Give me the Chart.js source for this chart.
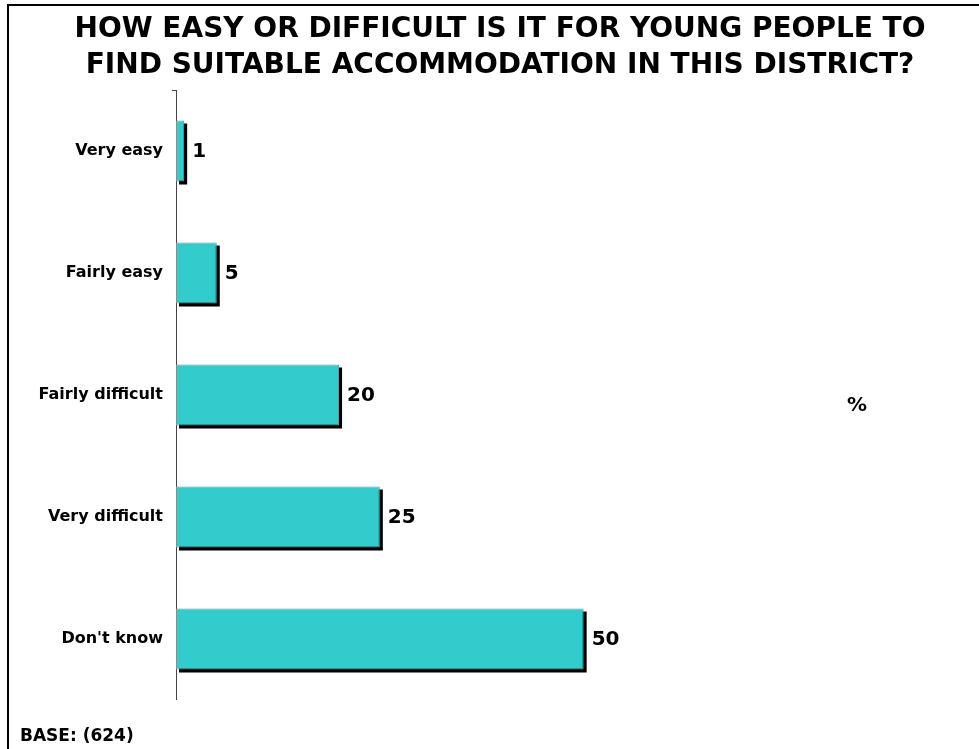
<!DOCTYPE html>
<html>
<head>
<meta charset="utf-8">
<script src="https://cdn.jsdelivr.net/npm/chart.js@4/dist/chart.umd.min.js"></script>
<style>
  html, body { margin: 0; padding: 0; background: #fff; }
  canvas { display: block; }
</style>
</head>
<body>
<canvas id="chart" width="979" height="749"></canvas>
<script>
// data
const categories = ['Very easy', 'Fairly easy', 'Fairly difficult', 'Very difficult', "Don't know"];
const values = [1, 5, 20, 25, 50];
const titleLines = ['HOW EASY OR DIFFICULT IS IT FOR YOUNG PEOPLE TO', 'FIND SUITABLE ACCOMMODATION IN THIS DISTRICT?'];
const baseNote = 'BASE: (624)';
const unitLabel = '%';

const FONT = '"DejaVu Sans", Verdana, sans-serif';

// black drop shadow behind each bar, value labels, frame and notes
const shadowPlugin = {
    id: 'shadow',
    beforeDatasetsDraw(chart) {
        const ctx = chart.ctx;
        const meta = chart.getDatasetMeta(0);
        ctx.save();
        ctx.fillStyle = '#000';
        meta.data.forEach(bar => {
            const left = bar.base;
            const right = bar.x;
            const top = bar.y - bar.height / 2;
            const bottom = bar.y + bar.height / 2;
            ctx.fillRect(left + 3, top + 3, right - left, bottom - top);
        });
        ctx.restore();
    },
    afterDatasetsDraw(chart) {
        const ctx = chart.ctx;
        const meta = chart.getDatasetMeta(0);
        ctx.save();
        ctx.fillStyle = '#000';
        ctx.font = 'bold 20px ' + FONT;
        ctx.textBaseline = 'middle';
        ctx.textAlign = 'left';
        meta.data.forEach((bar, i) => {
            ctx.fillText(String(values[i]), bar.x + 8, bar.y + 1);
        });
        ctx.restore();
    },
    afterDraw(chart) {
        const ctx = chart.ctx;
        const area = chart.chartArea;
        ctx.save();
        // frame
        ctx.strokeStyle = '#000';
        ctx.lineWidth = 2;
        ctx.beginPath();
        ctx.moveTo(979, 5);
        ctx.lineTo(8, 5);
        ctx.lineTo(8, 749);
        ctx.stroke();
        // top tick
        ctx.strokeStyle = '#444';
        ctx.lineWidth = 1;
        ctx.beginPath();
        ctx.moveTo(172, area.top + 0.5);
        ctx.lineTo(area.left, area.top + 0.5);
        ctx.stroke();
        // % and base
        ctx.fillStyle = '#000';
        ctx.font = 'bold 20px ' + FONT;
        ctx.textAlign = 'center';
        ctx.textBaseline = 'middle';
        ctx.fillText(unitLabel, 857, 406);
        ctx.font = 'bold 17px ' + FONT;
        ctx.textAlign = 'left';
        ctx.textBaseline = 'alphabetic';
        ctx.fillText(baseNote, 20, 741);
        ctx.restore();
    }
};

new Chart(document.getElementById('chart').getContext('2d'), {
    type: 'bar',
    data: {
        labels: categories,
        datasets: [{
            data: values,
            backgroundColor: '#33CCCC',
            borderColor: '#6a9c9c',
            borderWidth: 1,
            borderSkipped: false,
            categoryPercentage: 1,
            barPercentage: 0.5
        }]
    },
    options: {
        indexAxis: 'y',
        responsive: false,
        animation: false,
        layout: {
            padding: { left: 25, right: 4, top: 0, bottom: 49 }
        },
        plugins: {
            legend: { display: false },
            tooltip: { enabled: false },
            title: {
                display: true,
                text: titleLines,
                color: '#000',
                font: { family: FONT, size: 28, weight: 'bold', lineHeight: 1.286 },
                padding: { top: 12, bottom: 6 }
            }
        },
        scales: {
            x: {
                display: false,
                min: 0,
                max: 98
            },
            y: {
                afterFit(scale) { scale.width = 151; },
                grid: { display: false, drawTicks: false },
                border: { display: true, color: '#444', width: 1 },
                ticks: {
                    color: '#000',
                    padding: 13,
                    font: { family: FONT, size: 16, weight: 'bold' }
                }
            }
        }
    },
    plugins: [shadowPlugin]
});
</script>
</body>
</html>
